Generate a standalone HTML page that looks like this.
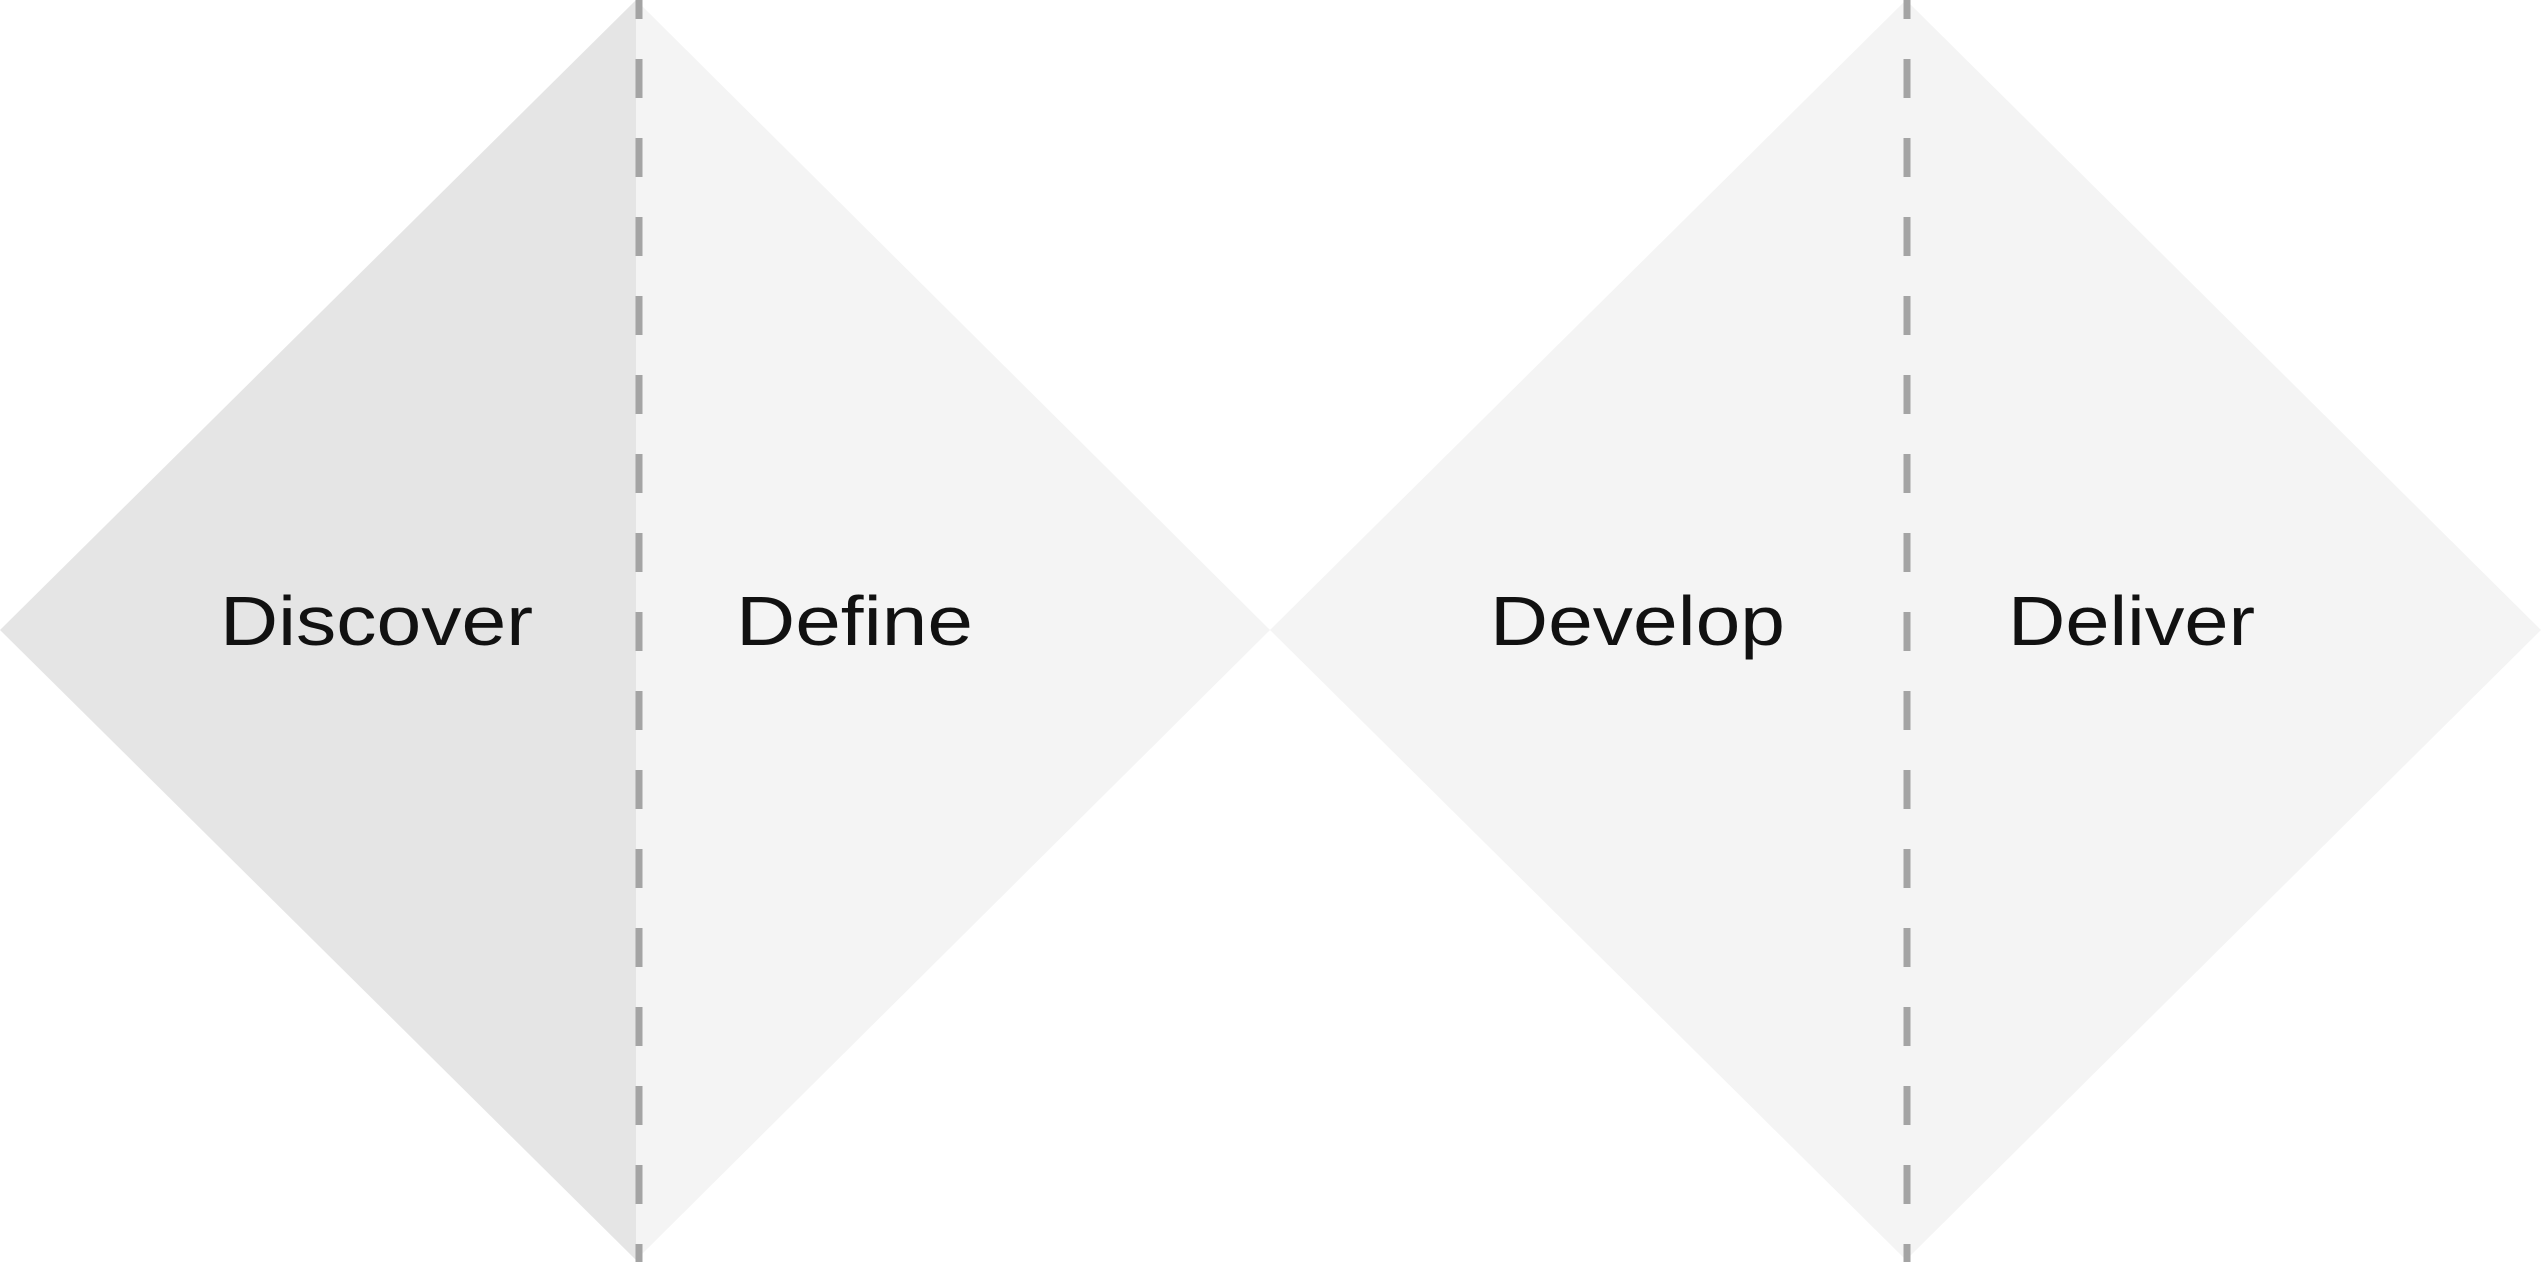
<!DOCTYPE html>
<html><head><meta charset="utf-8"><style>html,body{margin:0;padding:0;background:#fff}svg{display:block}</style></head>
<body>
<svg width="2541" height="1262" viewBox="0 0 2541 1262" xmlns="http://www.w3.org/2000/svg">
  <polygon points="0,630 636,0 636,1260" fill="#e5e5e5"/>
  <polygon points="636,0 1270,630 636,1260" fill="#f4f4f4"/>
  <polygon points="1270,630 1906,0 2541,630 1906,1260" fill="#f4f4f4"/>
  <line x1="639" y1="-20" x2="639" y2="1262" stroke="#a4a4a4" stroke-width="7" stroke-dasharray="39 40"/>
  <line x1="1907" y1="-20" x2="1907" y2="1262" stroke="#a4a4a4" stroke-width="7" stroke-dasharray="39 40"/>
  <g font-family="Liberation Sans, sans-serif" font-size="70" fill="#111">
    <text x="220" y="645" textLength="313" lengthAdjust="spacingAndGlyphs">Discover</text>
    <text x="736" y="645" textLength="237" lengthAdjust="spacingAndGlyphs">Define</text>
    <text x="1490" y="645" textLength="295" lengthAdjust="spacingAndGlyphs">Develop</text>
    <text x="2008" y="645" textLength="247" lengthAdjust="spacingAndGlyphs">Deliver</text>
  </g>
</svg>
</body></html>
